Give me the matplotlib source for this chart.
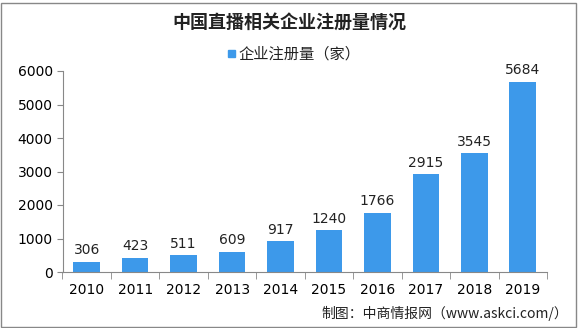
import matplotlib.pyplot as plt
from matplotlib.patches import Rectangle

plt.rcParams['font.family'] = ['Noto Sans CJK SC', 'DejaVu Sans']

years = ['2010', '2011', '2012', '2013', '2014', '2015', '2016', '2017', '2018', '2019']
counts = [306, 423, 511, 609, 917, 1240, 1766, 2915, 3545, 5684]
yticks = [0, 1000, 2000, 3000, 4000, 5000, 6000]

W, H = 578, 328
fig = plt.figure(figsize=(W / 100, H / 100), dpi=100)
ax = fig.add_axes([62.5 / W, 1 - 272 / H, (547 - 62.5) / W, (272 - 71) / H])

bar_color = '#3d99ea'
x = list(range(len(years)))
ax.bar(x, counts, width=0.55, color=bar_color, zorder=2)
for xi, v in zip(x, counts):
    ax.text(xi, v + 130, str(v), ha='center', va='bottom', fontsize=10,
            family='DejaVu Sans', color='#222222')

ax.set_xlim(-0.5, len(years) - 0.5)
ax.set_ylim(0, 6000)
ax.set_yticks(yticks)
ax.set_yticklabels([str(t) for t in yticks], family='DejaVu Sans', fontsize=10)
ax.set_xticks(x)
ax.set_xticklabels(years, family='DejaVu Sans', fontsize=10)
ax.set_xticks([i + 0.5 for i in range(-1, len(years))], minor=True)
ax.tick_params(axis='x', which='major', length=0, pad=8)
ax.tick_params(axis='x', which='minor', length=5, color='#888888')
ax.tick_params(axis='y', length=4, color='#888888', pad=3)
for s in ['top', 'right']:
    ax.spines[s].set_visible(False)
for s in ['left', 'bottom']:
    ax.spines[s].set_color('#888888')

fig.text(0.5, 1 - 22 / H, '中国直播相关企业注册量情况', ha='center', va='center',
         fontsize=13, fontweight='bold', color='#222222')
fig.patches.append(Rectangle((228 / W, 1 - 57 / H), 7 / W, 7 / H,
                             transform=fig.transFigure, color=bar_color))
fig.text(238 / W, 1 - 54 / H, '企业注册量（家）', ha='left', va='center',
         fontsize=11, color='#222222')
fig.text(568 / W, 1 - 313 / H, '制图：中商情报网（www.askci.com/）', ha='right',
         va='center', fontsize=10, color='#222222')

fig.patches.append(Rectangle((1 / W, 1 / H), (W - 3) / W, (H - 4) / H,
                             transform=fig.transFigure, fill=False,
                             edgecolor='#888888', linewidth=1))

fig.savefig('out.png', dpi=100)
